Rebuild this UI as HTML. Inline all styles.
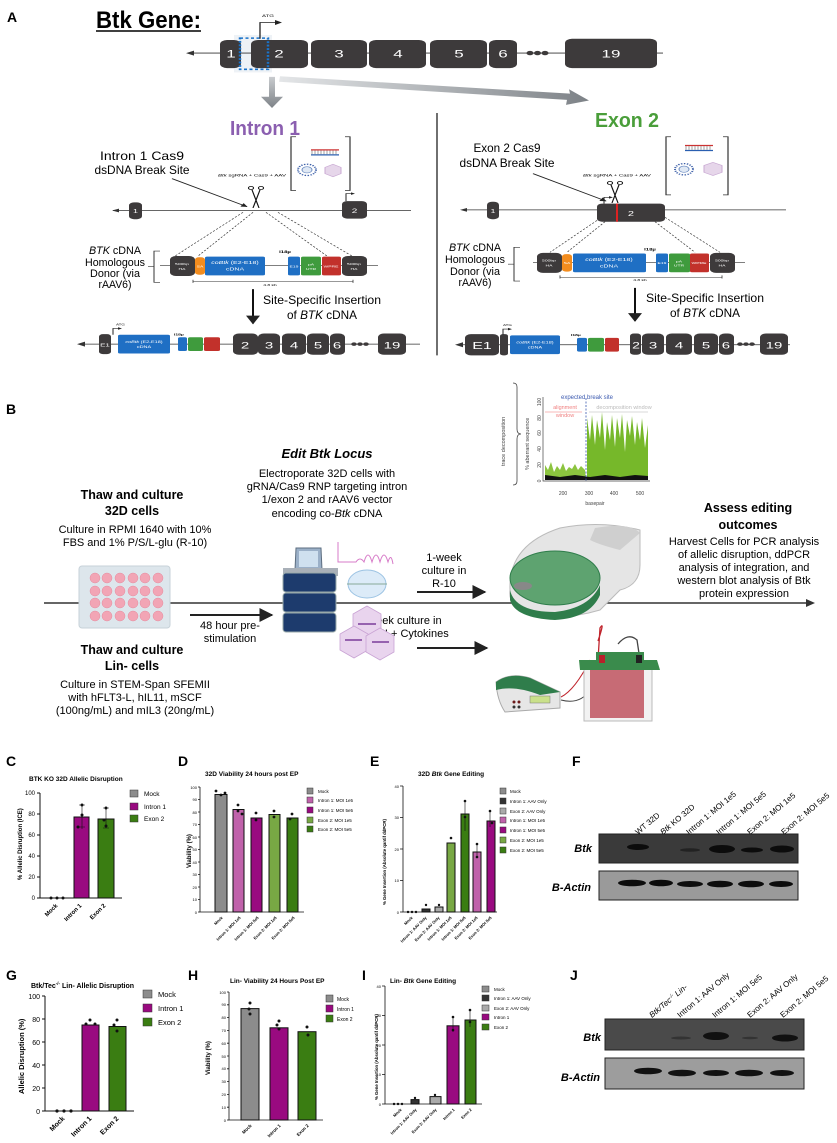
<!DOCTYPE html>
<html><head><meta charset="utf-8"><style>
html,body{margin:0;padding:0;background:#fff}
svg{display:block}
text{font-family:"Liberation Sans",sans-serif}
</style></head><body>
<svg width="837" height="1143" viewBox="0 0 837 1143" xmlns="http://www.w3.org/2000/svg">
<defs>
<marker id="ah" viewBox="0 0 10 10" refX="9" refY="5" markerWidth="5" markerHeight="5" orient="auto"><path d="M0,0L10,5L0,10z" fill="#222"/></marker>
<marker id="ahs" viewBox="0 0 10 10" refX="9" refY="5" markerWidth="7" markerHeight="7" orient="auto"><path d="M0,0L10,5L0,10z" fill="#222"/></marker>
<linearGradient id="gg" x1="0" y1="0" x2="1" y2="0"><stop offset="0" stop-color="#e4e6e8"/><stop offset="1" stop-color="#7d8287"/></linearGradient>
<linearGradient id="gv" x1="0" y1="0" x2="0" y2="1"><stop offset="0" stop-color="#c9cccf"/><stop offset="1" stop-color="#7d8287"/></linearGradient>
</defs>

<!-- ============ PANEL A ============ -->
<text x="7" y="22" font-size="14" font-weight="bold">A</text>
<text x="96" y="28" font-size="24" font-weight="bold" textLength="105" lengthAdjust="spacingAndGlyphs">Btk Gene:</text>
<line x1="96" y1="31" x2="201" y2="31" stroke="#000" stroke-width="1.5"/>
<text x="265" y="135" font-size="20" font-weight="bold" fill="#8b5fb0" text-anchor="middle" textLength="70" lengthAdjust="spacingAndGlyphs">Intron 1</text>
<text x="627" y="127" font-size="20" font-weight="bold" fill="#4a9e3a" text-anchor="middle" textLength="64" lengthAdjust="spacingAndGlyphs">Exon 2</text>
<g font-size="12" text-anchor="middle">
<text x="142" y="160" textLength="84" lengthAdjust="spacingAndGlyphs">Intron 1 Cas9</text>
<text x="142" y="174" textLength="95" lengthAdjust="spacingAndGlyphs">dsDNA Break Site</text>
<text x="507" y="152" textLength="67" lengthAdjust="spacingAndGlyphs">Exon 2 Cas9</text>
<text x="507" y="167" textLength="95" lengthAdjust="spacingAndGlyphs">dsDNA Break Site</text>
<text x="322" y="304" textLength="118" lengthAdjust="spacingAndGlyphs">Site-Specific Insertion</text>
<text x="322" y="319" textLength="70" lengthAdjust="spacingAndGlyphs">of <tspan font-style="italic">BTK</tspan> cDNA</text>
<text x="705" y="302" textLength="118" lengthAdjust="spacingAndGlyphs">Site-Specific Insertion</text>
<text x="705" y="317" textLength="70" lengthAdjust="spacingAndGlyphs">of <tspan font-style="italic">BTK</tspan> cDNA</text>
</g>
<g font-size="11" text-anchor="middle">
<text x="115" y="254" textLength="52" lengthAdjust="spacingAndGlyphs"><tspan font-style="italic">BTK</tspan> cDNA</text>
<text x="115" y="266" textLength="60" lengthAdjust="spacingAndGlyphs">Homologous</text>
<text x="115" y="277" textLength="50" lengthAdjust="spacingAndGlyphs">Donor (via</text>
<text x="115" y="288" textLength="33" lengthAdjust="spacingAndGlyphs">rAAV6)</text>
<text x="475" y="251" textLength="52" lengthAdjust="spacingAndGlyphs"><tspan font-style="italic">BTK</tspan> cDNA</text>
<text x="475" y="263" textLength="60" lengthAdjust="spacingAndGlyphs">Homologous</text>
<text x="475" y="275" textLength="50" lengthAdjust="spacingAndGlyphs">Donor (via</text>
<text x="475" y="286" textLength="33" lengthAdjust="spacingAndGlyphs">rAAV6)</text>
</g>
<g transform="scale(1,0.6245)">
<rect x="234" y="56" width="38" height="60" fill="#eef2f6"/>
<line x1="188" y1="85" x2="663" y2="85" stroke="#333" stroke-width="1.5"/>
<path d="M186,85 l8,-4 v8z" fill="#333"/>
<g fill="#3d3a3b">
<rect x="220" y="64" width="21" height="45" rx="7"/>
<rect x="251" y="64" width="57" height="45" rx="7"/>
<rect x="311" y="64" width="56" height="45" rx="7"/>
<rect x="369" y="64" width="57" height="45" rx="7"/>
<rect x="430" y="64" width="57" height="45" rx="7"/>
<rect x="489" y="64" width="28" height="45" rx="7"/>
<rect x="565" y="62" width="92" height="47" rx="7"/>
<circle cx="530" cy="85" r="3.5"/><circle cx="537.5" cy="85" r="3.5"/><circle cx="545" cy="85" r="3.5"/>
</g>
<g fill="#fff" font-size="17" text-anchor="middle">
<text x="231" y="92">1</text><text x="279" y="92">2</text><text x="339" y="92">3</text><text x="398" y="92">4</text><text x="459" y="92">5</text><text x="503" y="92">6</text><text x="611" y="92">19</text>
</g>
<rect x="240" y="61" width="28" height="50" fill="none" stroke="#1a73c9" stroke-width="2.5" stroke-dasharray="3,2.5"/>
<path d="M260,62 V36 H276" fill="none" stroke="#222" stroke-width="1.3"/><path d="M282,36 l-7,-4 v8z" fill="#222"/>
<text x="268" y="27" font-size="6" text-anchor="middle">ATG</text>
<path d="M269,123 h6 v32 h8 l-11,18 l-11,-18 h8z" fill="url(#gv)"/>
<path d="M280,122 L570,150 L569,143 L589,161 L566,168 L567,160 L279,131z" fill="url(#gg)"/>
<line x1="437" y1="181" x2="437" y2="569" stroke="#222" stroke-width="1.3"/>
<line x1="172" y1="286" x2="247" y2="331" stroke="#222" stroke-width="1.3" marker-end="url(#ah)"/>
<line x1="533" y1="278" x2="606" y2="322" stroke="#222" stroke-width="1.3" marker-end="url(#ah)"/>
<text x="252" y="283" font-size="6" text-anchor="middle"><tspan font-style="italic">Btk</tspan> sgRNA + Cas9 + AAV</text>
<text x="617" y="283" font-size="6" text-anchor="middle"><tspan font-style="italic">Btk</tspan> sgRNA + Cas9 + AAV</text>
<g fill="none" stroke="#333" stroke-width="1.2">
<path d="M296,219 h-5 v86 h5"/><path d="M345,219 h5 v86 h-5"/>
<path d="M671,219 h-5 v93 h5"/><path d="M723,219 h5 v93 h-5"/>
</g>
<g>
<rect x="311" y="239" width="28" height="2" fill="#c33"/><rect x="311" y="247" width="28" height="2" fill="#2a5fb0"/>
<path d="M312,241v6M315,241v6M318,241v6M321,241v6M324,241v6M327,241v6M330,241v6M333,241v6M336,241v6" stroke="#888" stroke-width="0.8"/>
<circle cx="307" cy="272" r="9" fill="none" stroke="#3c5fa8" stroke-width="2" stroke-dasharray="1.5,1.5"/><circle cx="307" cy="272" r="5" fill="#dfe8f4" stroke="#6a8ac0"/>
<path d="M333,263 l8,5 v10 l-8,5 l-8,-5 v-10z" fill="#e6d6ea" stroke="#c9a9d3"/>
<rect x="685" y="232" width="28" height="2" fill="#c33"/><rect x="685" y="240" width="28" height="2" fill="#2a5fb0"/>
<path d="M686,234v6M689,234v6M692,234v6M695,234v6M698,234v6M701,234v6M704,234v6M707,234v6M710,234v6" stroke="#888" stroke-width="0.8"/>
<circle cx="684" cy="271" r="9" fill="none" stroke="#3c5fa8" stroke-width="2" stroke-dasharray="1.5,1.5"/><circle cx="684" cy="271" r="5" fill="#dfe8f4" stroke="#6a8ac0"/>
<path d="M713,260 l9,5 v11 l-9,5 l-9,-5 v-11z" fill="#e6d6ea" stroke="#c9a9d3"/>
</g>
<g fill="none" stroke="#111" stroke-width="1.2">
<circle cx="251" cy="301" r="2.5"/><circle cx="261" cy="301" r="2.5"/><path d="M252,304 L259,333 M260,304 L253,333"/>
<circle cx="610" cy="293" r="2.5"/><circle cx="620" cy="293" r="2.5"/><path d="M611,296 L618,325 M619,296 L612,325"/>
</g>
<line x1="113" y1="337" x2="411" y2="337" stroke="#333" stroke-width="1.2"/><path d="M112,337 l7,-3 v6z" fill="#333"/>
<rect x="129" y="324" width="13" height="27" rx="5" fill="#3d3a3b"/><text x="135.5" y="341" font-size="9" fill="#fff" text-anchor="middle">1</text>
<rect x="342" y="322" width="25" height="28" rx="5" fill="#3d3a3b"/><text x="354.5" y="341" font-size="10" fill="#fff" text-anchor="middle">2</text>
<path d="M346,322 V310 H352" fill="none" stroke="#222"/><path d="M355,310 l-4,-2 v4z" fill="#222"/>
<g stroke="#333" stroke-dasharray="2.5,2" stroke-width="0.9">
<line x1="243" y1="340" x2="175" y2="410"/><line x1="253" y1="340" x2="198" y2="410"/><line x1="266" y1="340" x2="327" y2="410"/><line x1="278" y1="340" x2="352" y2="410"/>
<line x1="597" y1="353" x2="550" y2="404"/><line x1="605" y1="355" x2="567" y2="404"/><line x1="655" y1="355" x2="695" y2="404"/><line x1="665" y1="348" x2="720" y2="404"/>
</g>
<path d="M160,402 h-6 v50 h6" fill="none" stroke="#333"/><line x1="148" y1="427" x2="154" y2="427" stroke="#333"/>
<path d="M520,396 h-6 v54 h6" fill="none" stroke="#333"/><line x1="508" y1="423" x2="514" y2="423" stroke="#333"/>
<line x1="160" y1="425" x2="378" y2="425" stroke="#333"/>
<g font-size="5" fill="#fff" text-anchor="middle">
<rect x="170" y="410" width="25" height="32" rx="6" fill="#3d3a3b"/><text x="182" y="424">500bp</text><text x="182" y="432">HA</text>
<rect x="195" y="412" width="10" height="28" rx="4" fill="#f28c1e"/><text x="200" y="428">SA</text>
<rect x="205" y="411" width="60" height="30" rx="2" fill="#1f6fc4"/><text x="235" y="423" font-size="7"><tspan font-style="italic">coBtk</tspan> (E2-E18)</text><text x="235" y="433" font-size="7">cDNA</text>
<rect x="288" y="411" width="12" height="30" rx="2" fill="#1f6fc4"/><text x="294" y="428">E19</text>
<rect x="301" y="411" width="20" height="30" rx="2" fill="#3f9b3d"/><text x="311" y="425">pA</text><text x="311" y="432">UTR</text>
<rect x="322" y="411" width="19" height="30" rx="2" fill="#c2312b"/><text x="331" y="428">WPRE</text>
<rect x="342" y="410" width="25" height="32" rx="6" fill="#3d3a3b"/><text x="354" y="424">500bp</text><text x="354" y="432">HA</text>
</g>
<text x="285" y="405" font-size="6" font-weight="bold" text-anchor="middle">I18µ</text>
<path d="M193,448v5M193,451H353M353,448v5" stroke="#333" fill="none" stroke-width="0.8"/>
<text x="270" y="458" font-size="5" text-anchor="middle">4.8 kb</text>
<line x1="533" y1="420" x2="745" y2="420" stroke="#333"/>
<g font-size="5" fill="#fff" text-anchor="middle">
<rect x="537" y="405" width="25" height="32" rx="6" fill="#3d3a3b"/><text x="549" y="419">500bp</text><text x="549" y="427">HA</text>
<rect x="562" y="407" width="10" height="28" rx="4" fill="#f28c1e"/><text x="567" y="423">SA</text>
<rect x="573" y="406" width="73" height="30" rx="2" fill="#1f6fc4"/><text x="609" y="418" font-size="7"><tspan font-style="italic">coBtk</tspan> (E2-E18)</text><text x="609" y="428" font-size="7">cDNA</text>
<rect x="656" y="406" width="12" height="30" rx="2" fill="#1f6fc4"/><text x="662" y="423">E19</text>
<rect x="669" y="406" width="21" height="30" rx="2" fill="#3f9b3d"/><text x="679" y="420">pA</text><text x="679" y="427">UTR</text>
<rect x="690" y="406" width="19" height="30" rx="2" fill="#c2312b"/><text x="699" y="423">WPRE</text>
<rect x="710" y="405" width="25" height="32" rx="6" fill="#3d3a3b"/><text x="722" y="419">500bp</text><text x="722" y="427">HA</text>
</g>
<text x="650" y="401" font-size="6" font-weight="bold" text-anchor="middle">I18µ</text>
<path d="M560,441v5M560,444H722M722,441v5" stroke="#333" fill="none" stroke-width="0.8"/>
<text x="640" y="450" font-size="5" text-anchor="middle">4.8 kb</text>
<line x1="462" y1="336" x2="786" y2="336" stroke="#333" stroke-width="1.2"/><path d="M460,336 l7,-3 v6z" fill="#333"/>
<rect x="487" y="323" width="12" height="28" rx="5" fill="#3d3a3b"/><text x="493" y="341" font-size="9" fill="#fff" text-anchor="middle">1</text>
<rect x="597" y="326" width="68" height="29" rx="5" fill="#3d3a3b"/><text x="631" y="346" font-size="11" fill="#fff" text-anchor="middle">2</text>
<line x1="617" y1="326" x2="617" y2="355" stroke="#d22" stroke-width="2"/>
<path d="M604,326 V316 H610" fill="none" stroke="#222"/><path d="M613,316 l-4,-2 v4z" fill="#222"/>
<line x1="253" y1="463" x2="253" y2="518" stroke="#111" stroke-width="2" marker-end="url(#ahs)"/>
<line x1="635" y1="461" x2="635" y2="514" stroke="#111" stroke-width="2" marker-end="url(#ahs)"/>
<line x1="80" y1="551" x2="420" y2="551" stroke="#333" stroke-width="1.3"/><path d="M77,551 l8,-4 v8z" fill="#333"/>
<g fill="#3d3a3b">
<rect x="99" y="535" width="12" height="32" rx="4"/>
<rect x="233" y="534" width="25" height="34" rx="6"/><rect x="258" y="534" width="22" height="34" rx="6"/><rect x="282" y="534" width="24" height="34" rx="6"/><rect x="307" y="534" width="22" height="34" rx="6"/><rect x="330" y="534" width="15" height="34" rx="6"/>
<rect x="378" y="534" width="28" height="34" rx="6"/>
<circle cx="354" cy="551" r="2.8"/><circle cx="360" cy="551" r="2.8"/><circle cx="366" cy="551" r="2.8"/>
</g>
<g fill="#fff" text-anchor="middle">
<text x="105" y="555" font-size="8">E1</text>
<text x="245" y="558" font-size="15">2</text><text x="269" y="558" font-size="15">3</text><text x="294" y="558" font-size="15">4</text><text x="318" y="558" font-size="15">5</text><text x="337" y="558" font-size="15">6</text><text x="392" y="558" font-size="15">19</text>
<rect x="118" y="536" width="52" height="30" rx="2" fill="#1f6fc4"/><text x="144" y="549" font-size="5.5"><tspan font-style="italic">coBtk</tspan> (E2-E18)</text><text x="144" y="557" font-size="5.5">cDNA</text>
<rect x="178" y="540" width="9" height="22" rx="2" fill="#1f6fc4"/>
<rect x="188" y="540" width="15" height="22" rx="2" fill="#3f9b3d"/>
<rect x="204" y="540" width="16" height="22" rx="2" fill="#c2312b"/>
</g>
<path d="M113,536 V526 H119" fill="none" stroke="#222"/><path d="M122,526 l-4,-2 v4z" fill="#222"/>
<text x="116" y="521" font-size="4.5">ATG</text><text x="174" y="537" font-size="5" font-weight="bold">I18µ</text>
<line x1="458" y1="552" x2="790" y2="552" stroke="#333" stroke-width="1.3"/><path d="M455,552 l8,-4 v8z" fill="#333"/>
<g fill="#3d3a3b">
<rect x="465" y="535" width="34" height="34" rx="6"/><rect x="500" y="535" width="8" height="34" rx="3"/>
<rect x="630" y="534" width="11" height="34" rx="4"/><rect x="642" y="534" width="22" height="34" rx="6"/><rect x="666" y="534" width="26" height="34" rx="6"/><rect x="694" y="534" width="24" height="34" rx="6"/><rect x="719" y="534" width="15" height="34" rx="6"/>
<rect x="760" y="534" width="28" height="34" rx="6"/>
<circle cx="740" cy="551" r="2.8"/><circle cx="746" cy="551" r="2.8"/><circle cx="752" cy="551" r="2.8"/>
</g>
<g fill="#fff" text-anchor="middle">
<text x="482" y="559" font-size="16">E1</text>
<text x="636" y="558" font-size="14">2</text><text x="653" y="558" font-size="15">3</text><text x="679" y="558" font-size="15">4</text><text x="706" y="558" font-size="15">5</text><text x="726" y="558" font-size="15">6</text><text x="774" y="558" font-size="15">19</text>
<rect x="510" y="537" width="50" height="30" rx="2" fill="#1f6fc4"/><text x="535" y="550" font-size="5.5"><tspan font-style="italic">coBtk</tspan> (E2-E18)</text><text x="535" y="558" font-size="5.5">cDNA</text>
<rect x="577" y="541" width="10" height="22" rx="2" fill="#1f6fc4"/>
<rect x="588" y="541" width="16" height="22" rx="2" fill="#3f9b3d"/>
<rect x="605" y="541" width="14" height="22" rx="2" fill="#c2312b"/>
</g>
<path d="M503,536 V527 H509" fill="none" stroke="#222"/><path d="M512,527 l-4,-2 v4z" fill="#222"/>
<text x="503" y="522" font-size="4.5">ATG</text><text x="571" y="538" font-size="5" font-weight="bold">I18µ</text>
</g>

<!-- ============ PANEL B ============ -->
<text x="6" y="414" font-size="14" font-weight="bold">B</text>
<text x="327" y="458" font-size="13" font-weight="bold" font-style="italic" text-anchor="middle">Edit Btk Locus</text>
<g font-size="11" text-anchor="middle">
<text x="327" y="477">Electroporate 32D cells with</text>
<text x="327" y="490">gRNA/Cas9 RNP targeting intron</text>
<text x="327" y="503">1/exon 2 and rAAV6 vector</text>
<text x="327" y="517">encoding co-<tspan font-style="italic">Btk</tspan> cDNA</text>
</g>
<g font-size="12.5" font-weight="bold" text-anchor="middle">
<text x="132" y="499">Thaw and culture</text><text x="132" y="515">32D cells</text>
<text x="132" y="654">Thaw and culture</text><text x="132" y="670">Lin- cells</text>
<text x="748" y="512">Assess editing</text><text x="748" y="529">outcomes</text>
</g>
<g font-size="11" text-anchor="middle">
<text x="135" y="533">Culture in RPMI 1640 with 10%</text>
<text x="135" y="546">FBS and 1% P/S/L-glu (R-10)</text>
<text x="135" y="688">Culture in STEM-Span SFEMII</text>
<text x="135" y="701">with hFLT3-L, hIL11, mSCF</text>
<text x="135" y="714">(100ng/mL) and mIL3 (20ng/mL)</text>
<text x="230" y="629">48 hour pre-</text><text x="230" y="642">stimulation</text>
<text x="444" y="561">1-week</text><text x="444" y="574">culture in</text><text x="444" y="587">R-10</text>
<text x="400" y="624">1-week culture in</text><text x="400" y="637">SFEMII + Cytokines</text>
<text x="744" y="545">Harvest Cells for PCR analysis</text>
<text x="744" y="558">of allelic disruption, ddPCR</text>
<text x="744" y="571">analysis of integration, and</text>
<text x="744" y="584">western blot analysis of Btk</text>
<text x="744" y="597">protein expression</text>
</g>
<line x1="44" y1="603" x2="810" y2="603" stroke="#333" stroke-width="1.6"/><path d="M815,603 l-9,-4 v8z" fill="#333"/>
<line x1="190" y1="615" x2="272" y2="615" stroke="#222" stroke-width="2" marker-end="url(#ahs)"/>
<line x1="417" y1="592" x2="485" y2="592" stroke="#222" stroke-width="2" marker-end="url(#ahs)"/>
<line x1="417" y1="648" x2="487" y2="648" stroke="#222" stroke-width="2" marker-end="url(#ahs)"/>
<rect x="79" y="566" width="91" height="62" rx="3" fill="#dde6ec" stroke="#c7d2d9"/>
<g fill="#f2a5b5" stroke="#e58a9e" stroke-width="0.5">
<circle cx="95" cy="578" r="5"/><circle cx="107" cy="578" r="5"/><circle cx="120" cy="578" r="5"/><circle cx="133" cy="578" r="5"/><circle cx="145" cy="578" r="5"/><circle cx="158" cy="578" r="5"/>
<circle cx="95" cy="591" r="5"/><circle cx="107" cy="591" r="5"/><circle cx="120" cy="591" r="5"/><circle cx="133" cy="591" r="5"/><circle cx="145" cy="591" r="5"/><circle cx="158" cy="591" r="5"/>
<circle cx="95" cy="603" r="5"/><circle cx="107" cy="603" r="5"/><circle cx="120" cy="603" r="5"/><circle cx="133" cy="603" r="5"/><circle cx="145" cy="603" r="5"/><circle cx="158" cy="603" r="5"/>
<circle cx="95" cy="616" r="5"/><circle cx="107" cy="616" r="5"/><circle cx="120" cy="616" r="5"/><circle cx="133" cy="616" r="5"/><circle cx="145" cy="616" r="5"/><circle cx="158" cy="616" r="5"/>
</g>
<path d="M296,548 l25,0 l1,22 l-27,0z" fill="#9bb0c8" stroke="#5d6e80"/><rect x="299" y="551" width="19" height="16" fill="#cfe0ef"/>
<rect x="283" y="568" width="55" height="8" fill="#a9b0b8"/>
<rect x="283" y="573" width="53" height="19" rx="3" fill="#1d3b6d" stroke="#9aa" />
<rect x="283" y="593" width="53" height="19" rx="3" fill="#1d3b6d" stroke="#9aa"/>
<rect x="283" y="613" width="53" height="19" rx="3" fill="#1d3b6d" stroke="#9aa"/>
<path d="M338,542 v20 h18 q4,-6 8,0 q4,-14 8,0 q4,-14 8,0 q4,-14 8,0 q3,-10 5,2" fill="none" stroke="#d77bc8" stroke-width="1"/>
<ellipse cx="367" cy="584" rx="19" ry="14" fill="#dcebf8" stroke="#9cc3e3"/>
<path d="M347,584 h40" stroke="#8a9" stroke-width="1"/>
<g fill="#e9d4ee" stroke="#c9a3d4" stroke-width="0.8">
<path d="M367,606 l14,8 v16 l-14,8 l-14,-8 v-16z"/><path d="M354,626 l14,8 v16 l-14,8 l-14,-8 v-16z"/><path d="M380,628 l14,8 v16 l-14,8 l-14,-8 v-16z"/>
</g>
<g stroke="#7a3c9a" stroke-width="1.5"><line x1="358" y1="624" x2="376" y2="624"/><line x1="345" y1="640" x2="362" y2="640"/><line x1="372" y1="642" x2="389" y2="642"/></g>
<path d="M513,383 q4,0 4,4 v42 q0,5 4,5 q-4,0 -4,5 v42 q0,4 -4,4" fill="none" stroke="#444" stroke-width="0.8"/>
<text transform="translate(505,466) rotate(-90)" font-size="5.5" fill="#444">trace decomposition</text>
<text transform="translate(529,470) rotate(-90)" font-size="5.5" fill="#444">% aberrant sequence</text>
<g font-size="5" fill="#444" text-anchor="middle">
<text transform="translate(541,481) rotate(-90)">0</text><text transform="translate(541,465) rotate(-90)">20</text><text transform="translate(541,449) rotate(-90)">40</text><text transform="translate(541,433) rotate(-90)">60</text><text transform="translate(541,418) rotate(-90)">80</text><text transform="translate(541,402) rotate(-90)">100</text>
<text x="563" y="495">200</text><text x="589" y="495">300</text><text x="614" y="495">400</text><text x="640" y="495">500</text>
<text x="595" y="505">basepair</text>
</g>
<path d="M543,397 V481 H650" fill="none" stroke="#444" stroke-width="0.7"/>
<path d="M545,480 L545,465 L548,470 L551,462 L554,472 L557,466 L560,470 L563,463 L566,471 L569,467 L572,469 L575,464 L578,470 L581,466 L585,470 L586,480z" fill="#8cc43f"/>
<path d="M587,480 L587,418 L590,440 L592,415 L595,445 L597,420 L600,438 L602,412 L605,450 L607,422 L610,440 L612,415 L615,447 L617,418 L620,438 L622,414 L625,452 L627,420 L630,436 L632,416 L635,445 L637,422 L640,440 L642,418 L645,448 L648,425 L648,480z" fill="#76b82a"/>
<path d="M545,480 L545,475 L560,477 L575,475 L590,477 L605,475 L620,477 L635,475 L648,476 L648,480z" fill="#111"/>
<line x1="586" y1="398" x2="586" y2="481" stroke="#3d5bb0" stroke-width="0.8" stroke-dasharray="2,1.5"/>
<text x="587" y="399" font-size="6" fill="#3d5bb0" text-anchor="middle">expected break site</text>
<line x1="545" y1="412" x2="582" y2="412" stroke="#f4a0a0" stroke-width="0.8"/>
<line x1="589" y1="412" x2="648" y2="412" stroke="#ccc" stroke-width="0.8"/>
<text x="565" y="409" font-size="5.5" fill="#f08080" text-anchor="middle">alignment</text><text x="565" y="417" font-size="5.5" fill="#f08080" text-anchor="middle">window</text>
<text x="624" y="409" font-size="5.5" fill="#bbb" text-anchor="middle">decomposition window</text>
<path d="M510,590 Q508,545 560,528 Q600,520 640,530 L640,565 Q640,585 620,590 L600,610 Q560,622 525,612 Q508,605 510,590z" fill="#e5e5e5" stroke="#bbb"/>
<path d="M595,528 Q630,522 640,533 L620,550 Q600,545 590,540z" fill="#cfcfcf"/>
<ellipse cx="555" cy="578" rx="45" ry="27" fill="#5ea370" stroke="#2f7d4b"/>
<path d="M510,590 Q515,612 555,612 Q590,608 600,585 L600,595 Q590,618 555,620 Q515,618 510,600z" fill="#2f7d4b"/>
<ellipse cx="523" cy="586" rx="9" ry="4" fill="#888"/>
<path d="M598,641 Q605,620 600,628 L598,660" fill="none" stroke="#c0242c" stroke-width="1.3"/>
<path d="M640,660 L637,640 Q628,632 618,644" fill="none" stroke="#444" stroke-width="1.3"/>
<path d="M561,697 Q575,690 590,660" fill="none" stroke="#c0242c" stroke-width="1"/>
<path d="M561,700 Q580,705 590,690" fill="none" stroke="#444" stroke-width="1"/>
<rect x="584" y="669" width="68" height="52" fill="#f2f2f2" stroke="#bbb"/>
<rect x="590" y="670" width="54" height="48" fill="#c76b75"/>
<path d="M579,660 L657,660 L660,670 L580,670z" fill="#3a8b4c"/>
<rect x="596" y="652" width="48" height="8" fill="#3a8b4c"/>
<rect x="599" y="655" width="6" height="8" fill="#b8202a"/><rect x="636" y="655" width="6" height="8" fill="#222"/>
<path d="M496,682 Q510,672 530,678 L560,692 L560,708 L505,712 Q497,700 496,682z" fill="#e6e6e6" stroke="#aaa"/>
<path d="M496,682 Q510,672 530,678 L560,692 L540,695 Q515,685 496,690z" fill="#2f7d4b"/>
<rect x="530" y="696" width="20" height="7" fill="#c9e08a" stroke="#777" stroke-width="0.5"/>
<circle cx="514" cy="702" r="1.5" fill="#6b1a1a"/><circle cx="519" cy="702" r="1.5" fill="#6b1a1a"/><circle cx="514" cy="707" r="1.5" fill="#333"/><circle cx="519" cy="707" r="1.5" fill="#333"/>

<!-- ============ PANELS C-J ============ -->
<g font-size="14" font-weight="bold">
<text x="6" y="766">C</text><text x="178" y="766">D</text><text x="370" y="766">E</text><text x="572" y="766">F</text>
<text x="6" y="980">G</text><text x="188" y="980">H</text><text x="362" y="980">I</text><text x="570" y="980">J</text>
</g>
<g font-size="6.5" font-weight="bold">
<text x="29" y="781">BTK KO 32D Allelic Disruption</text>
<text x="205" y="776">32D Viability 24 hours post EP</text>
<text x="418" y="776">32D <tspan font-style="italic">Btk</tspan> Gene Editing</text>
<text x="31" y="988" font-size="7">Btk/Tec<tspan font-size="4.5" dy="-3">-/-</tspan><tspan dy="3"> Lin- Allelic Disruption</tspan></text>
<text x="230" y="983">Lin- Viability 24 Hours Post EP</text>
<text x="390" y="983">Lin- <tspan font-style="italic">Btk</tspan> Gene Editing</text>
</g>
<g stroke="#111" stroke-width="1" fill="none"><path d="M40,793 V898 H122"/>
<path d="M37,793h3M37,814h3M37,835h3M37,856h3M37,877h3M37,898h3"/></g>
<g font-size="6" text-anchor="end"><text x="35" y="795">100</text><text x="35" y="816">80</text><text x="35" y="837">60</text><text x="35" y="858">40</text><text x="35" y="879">20</text><text x="35" y="900">0</text></g>
<text transform="translate(22,880) rotate(-90)" font-size="6" font-weight="bold">% Allelic Disruption (ICE)</text>
<rect x="74" y="817" width="15" height="81" fill="#990a80" stroke="#111"/>
<rect x="98" y="819" width="16" height="79" fill="#3a7d12" stroke="#111"/>
<g fill="#111"><circle cx="51" cy="898" r="1.5"/><circle cx="57" cy="898" r="1.5"/><circle cx="63" cy="898" r="1.5"/>
<circle cx="82" cy="815" r="1.5"/><circle cx="78" cy="827" r="1.5"/><circle cx="82" cy="805" r="1.5"/><circle cx="106" cy="808" r="1.5"/><circle cx="104" cy="820" r="1.5"/><circle cx="106" cy="826" r="1.5"/></g>
<path d="M82,805v24M79,805h6M79,827h6M106,808v20M103,808h6M103,828h6" stroke="#111" stroke-width="0.6"/>
<g font-size="6" font-weight="bold" text-anchor="end"><text transform="translate(58,906) rotate(-45)">Mock</text><text transform="translate(82,906) rotate(-45)">Intron 1</text><text transform="translate(106,906) rotate(-45)">Exon 2</text></g>
<rect x="130" y="790" width="8" height="7" fill="#8c8c8c" stroke="#333" stroke-width="0.5"/><rect x="130" y="803" width="8" height="7" fill="#990a80" stroke="#333" stroke-width="0.5"/><rect x="130" y="815" width="8" height="7" fill="#3a7d12" stroke="#333" stroke-width="0.5"/>
<g font-size="6.5"><text x="144" y="796">Mock</text><text x="144" y="809">Intron 1</text><text x="144" y="821">Exon 2</text></g>
<g stroke="#111" stroke-width="0.8" fill="none"><path d="M200,787 V912 H304"/>
<path d="M198,787h2M198,799.5h2M198,812h2M198,824.5h2M198,837h2M198,849.5h2M198,862h2M198,874.5h2M198,887h2M198,899.5h2M198,912h2"/></g>
<g font-size="4" text-anchor="end"><text x="197" y="789">100</text><text x="197" y="801">90</text><text x="197" y="814">80</text><text x="197" y="826">70</text><text x="197" y="839">60</text><text x="197" y="851">50</text><text x="197" y="864">40</text><text x="197" y="876">30</text><text x="197" y="889">20</text><text x="197" y="901">10</text><text x="197" y="914">0</text></g>
<text transform="translate(191,868) rotate(-90)" font-size="6" font-weight="bold">Viability (%)</text>
<rect x="215" y="794.5" width="12" height="117.5" fill="#8c8c8c" stroke="#111"/>
<rect x="233" y="809.5" width="11" height="102.5" fill="#c062ab" stroke="#111"/>
<rect x="251" y="818" width="11" height="94" fill="#990a80" stroke="#111"/>
<rect x="269" y="814.5" width="11" height="97.5" fill="#78a844" stroke="#111"/>
<rect x="287" y="818" width="11" height="94" fill="#3a7d12" stroke="#111"/>
<g fill="#111"><circle cx="216" cy="791" r="1.4"/><circle cx="221" cy="795" r="1.4"/><circle cx="225" cy="793" r="1.4"/><circle cx="238" cy="805" r="1.4"/><circle cx="238" cy="811" r="1.4"/><circle cx="242" cy="814" r="1.4"/><circle cx="256" cy="820" r="1.4"/><circle cx="256" cy="813" r="1.4"/><circle cx="274" cy="817" r="1.4"/><circle cx="274" cy="811" r="1.4"/><circle cx="290" cy="819" r="1.4"/><circle cx="292" cy="814" r="1.4"/></g>
<g font-size="4" font-weight="bold" text-anchor="end"><text transform="translate(223,918) rotate(-45)">Mock</text><text transform="translate(241,918) rotate(-45)">Intron 1: MOI 1e5</text><text transform="translate(259,918) rotate(-45)">Intron 1: MOI 5e5</text><text transform="translate(277,918) rotate(-45)">Exon 2: MOI 1e5</text><text transform="translate(295,918) rotate(-45)">Exon 2: MOI 5e5</text></g>
<g stroke="#333" stroke-width="0.5"><rect x="307" y="788" width="6" height="6" fill="#8c8c8c"/><rect x="307" y="797" width="6" height="6" fill="#c062ab"/><rect x="307" y="807" width="6" height="6" fill="#990a80"/><rect x="307" y="817" width="6" height="6" fill="#78a844"/><rect x="307" y="826" width="6" height="6" fill="#3a7d12"/></g>
<g font-size="4.5"><text x="318" y="793">Mock</text><text x="318" y="802">Intron 1: MOI 1e5</text><text x="318" y="812">Intron 1: MOI 5e5</text><text x="318" y="822">Exon 2: MOI 1e5</text><text x="318" y="831">Exon 2: MOI 5e5</text></g>
<g stroke="#111" stroke-width="0.8" fill="none"><path d="M403,786 V912 H497"/>
<path d="M400,786h3M400,817.5h3M400,849h3M400,880.5h3M400,912h3"/></g>
<g font-size="4" text-anchor="end"><text x="399" y="788">40</text><text x="399" y="819">30</text><text x="399" y="851">20</text><text x="399" y="882">10</text><text x="399" y="914">0</text></g>
<text transform="translate(386,905) rotate(-90)" font-size="4.3" font-weight="bold">% Gene Insertion (Absolute qantif ddPCR)</text>
<rect x="422" y="909" width="8" height="3" fill="#333" stroke="#111"/><rect x="435" y="907" width="8" height="5" fill="#aaa" stroke="#111"/>
<rect x="447" y="843" width="8" height="69" fill="#78a844" stroke="#111"/>
<rect x="461" y="814" width="8" height="98" fill="#3a7d12" stroke="#111"/>
<rect x="473" y="852" width="8" height="60" fill="#c062ab" stroke="#111"/>
<rect x="487" y="821" width="8" height="91" fill="#990a80" stroke="#111"/>
<g fill="#111"><circle cx="408" cy="912" r="1.2"/><circle cx="412" cy="912" r="1.2"/><circle cx="416" cy="912" r="1.2"/><circle cx="426" cy="905" r="1.2"/><circle cx="439" cy="905" r="1.2"/><circle cx="451" cy="838" r="1.3"/><circle cx="465" cy="801" r="1.3"/><circle cx="465" cy="817" r="1.3"/><circle cx="477" cy="844" r="1.3"/><circle cx="477" cy="857" r="1.3"/><circle cx="490" cy="811" r="1.3"/><circle cx="492" cy="823" r="1.3"/></g>
<path d="M465,801v30M477,844v14M490,811v16" stroke="#111" stroke-width="0.6"/>
<g font-size="4" font-weight="bold" text-anchor="end"><text transform="translate(413,918) rotate(-45)">Mock</text><text transform="translate(427,918) rotate(-45)">Intron 1: AAV Only</text><text transform="translate(440,918) rotate(-45)">Exon 2: AAV Only</text><text transform="translate(452,918) rotate(-45)">Intron 1: MOI 1e5</text><text transform="translate(466,918) rotate(-45)">Intron 1: MOI 5e5</text><text transform="translate(478,918) rotate(-45)">Exon 2: MOI 1e5</text><text transform="translate(492,918) rotate(-45)">Exon 2: MOI 5e5</text></g>
<g stroke="#333" stroke-width="0.5"><rect x="500" y="788" width="6" height="6" fill="#8c8c8c"/><rect x="500" y="798" width="6" height="6" fill="#333"/><rect x="500" y="808" width="6" height="6" fill="#aaa"/><rect x="500" y="817" width="6" height="6" fill="#c062ab"/><rect x="500" y="827" width="6" height="6" fill="#990a80"/><rect x="500" y="837" width="6" height="6" fill="#78a844"/><rect x="500" y="847" width="6" height="6" fill="#3a7d12"/></g>
<g font-size="4.5"><text x="510" y="793">Mock</text><text x="510" y="803">Intron 1: AAV Only</text><text x="510" y="813">Exon 2: AAV Only</text><text x="510" y="822">Intron 1: MOI 1e5</text><text x="510" y="832">Intron 1: MOI 5e5</text><text x="510" y="842">Exon 2: MOI 1e5</text><text x="510" y="852">Exon 2: MOI 5e5</text></g>
<g font-size="8" text-anchor="start">
<text transform="translate(638,835) rotate(-40)">WT 32D</text>
<text transform="translate(663,835) rotate(-40)"><tspan font-style="italic">Btk</tspan> KO 32D</text>
<text transform="translate(689,835) rotate(-40)">Intron 1: MOI 1e5</text>
<text transform="translate(719,835) rotate(-40)">Intron 1: MOI 5e5</text>
<text transform="translate(750,835) rotate(-40)">Exon 2: MOI 1e5</text>
<text transform="translate(784,835) rotate(-40)">Exon 2: MOI 5e5</text>
</g>
<rect x="599" y="834" width="199" height="29" fill="#3a3a3a" stroke="#222"/>
<rect x="599" y="871" width="199" height="29" fill="#9a9a9a" stroke="#222"/>
<g fill="#0c0c0c">
<ellipse cx="638" cy="847" rx="11" ry="3"/><ellipse cx="690" cy="850" rx="10" ry="1.8" fill="#222"/><ellipse cx="722" cy="849" rx="13" ry="4"/><ellipse cx="752" cy="850" rx="11" ry="2.5"/><ellipse cx="782" cy="849" rx="12" ry="3.5"/>
<ellipse cx="632" cy="883" rx="14" ry="3.3"/><ellipse cx="661" cy="883" rx="12" ry="3.3"/><ellipse cx="690" cy="884" rx="13" ry="3"/><ellipse cx="720" cy="884" rx="13" ry="3.3"/><ellipse cx="751" cy="884" rx="13" ry="3.3"/><ellipse cx="781" cy="884" rx="12" ry="3"/>
</g>
<text x="592" y="852" font-size="11" font-weight="bold" font-style="italic" text-anchor="end">Btk</text>
<text x="591" y="891" font-size="11" font-weight="bold" font-style="italic" text-anchor="end">B-Actin</text>
<g stroke="#111" stroke-width="1" fill="none"><path d="M45,996 V1111 H134"/>
<path d="M42,996h3M42,1019h3M42,1042h3M42,1065h3M42,1088h3M42,1111h3"/></g>
<g font-size="7" text-anchor="end"><text x="40" y="999">100</text><text x="40" y="1022">80</text><text x="40" y="1045">60</text><text x="40" y="1068">40</text><text x="40" y="1091">20</text><text x="40" y="1114">0</text></g>
<text transform="translate(24,1094) rotate(-90)" font-size="7.5" font-weight="bold">Allelic Disruption (%)</text>
<rect x="82" y="1025" width="17" height="86" fill="#990a80" stroke="#111"/>
<rect x="109" y="1026.5" width="17" height="84.5" fill="#3a7d12" stroke="#111"/>
<g fill="#111"><circle cx="57" cy="1111" r="1.6"/><circle cx="64" cy="1111" r="1.6"/><circle cx="71" cy="1111" r="1.6"/><circle cx="86" cy="1024" r="1.5"/><circle cx="90" cy="1020" r="1.5"/><circle cx="95" cy="1024" r="1.5"/><circle cx="114" cy="1025" r="1.5"/><circle cx="117" cy="1020" r="1.5"/><circle cx="117" cy="1031" r="1.5"/></g>
<g font-size="7" font-weight="bold" text-anchor="end"><text transform="translate(65,1119) rotate(-45)">Mock</text><text transform="translate(92,1119) rotate(-45)">Intron 1</text><text transform="translate(119,1119) rotate(-45)">Exon 2</text></g>
<rect x="143" y="990" width="9" height="8" fill="#8c8c8c" stroke="#333" stroke-width="0.5"/><rect x="143" y="1004" width="9" height="8" fill="#990a80" stroke="#333" stroke-width="0.5"/><rect x="143" y="1018" width="9" height="8" fill="#3a7d12" stroke="#333" stroke-width="0.5"/>
<g font-size="7.5"><text x="158" y="997">Mock</text><text x="158" y="1011">Intron 1</text><text x="158" y="1025">Exon 2</text></g>
<g stroke="#111" stroke-width="0.8" fill="none"><path d="M229,992 V1120 H323"/>
<path d="M227,992h2M227,1004.8h2M227,1017.6h2M227,1030.4h2M227,1043.2h2M227,1056h2M227,1068.8h2M227,1081.6h2M227,1094.4h2M227,1107.2h2M227,1120h2"/></g>
<g font-size="4" text-anchor="end"><text x="226" y="994">100</text><text x="226" y="1006">90</text><text x="226" y="1019">80</text><text x="226" y="1032">70</text><text x="226" y="1045">60</text><text x="226" y="1058">50</text><text x="226" y="1070">40</text><text x="226" y="1083">30</text><text x="226" y="1096">20</text><text x="226" y="1109">10</text><text x="226" y="1122">0</text></g>
<text transform="translate(210,1075) rotate(-90)" font-size="6" font-weight="bold">Viability (%)</text>
<rect x="241" y="1008.6" width="18" height="111.4" fill="#8c8c8c" stroke="#111"/>
<rect x="270" y="1027.8" width="18" height="92.2" fill="#990a80" stroke="#111"/>
<rect x="298" y="1031.7" width="18" height="88.3" fill="#3a7d12" stroke="#111"/>
<g fill="#111"><circle cx="250" cy="1003" r="1.5"/><circle cx="250" cy="1014" r="1.5"/><circle cx="249" cy="1009" r="1.5"/><circle cx="279" cy="1021" r="1.5"/><circle cx="279" cy="1029" r="1.5"/><circle cx="277" cy="1025" r="1.5"/><circle cx="307" cy="1027" r="1.5"/><circle cx="308" cy="1035" r="1.5"/></g>
<g font-size="4.5" font-weight="bold" text-anchor="end"><text transform="translate(252,1126) rotate(-45)">Mock</text><text transform="translate(281,1126) rotate(-45)">Intron 1</text><text transform="translate(309,1126) rotate(-45)">Exon 2</text></g>
<g stroke="#333" stroke-width="0.5"><rect x="326" y="995" width="7" height="7" fill="#8c8c8c"/><rect x="326" y="1005" width="7" height="7" fill="#990a80"/><rect x="326" y="1015" width="7" height="7" fill="#3a7d12"/></g>
<g font-size="5"><text x="337" y="1001">Mock</text><text x="337" y="1011">Intron 1</text><text x="337" y="1021">Exon 2</text></g>
<g stroke="#111" stroke-width="0.8" fill="none"><path d="M385,986 V1104 H482"/>
<path d="M382,986h3M382,1015.5h3M382,1045h3M382,1074.5h3M382,1104h3"/></g>
<g font-size="4" text-anchor="end"><text x="381" y="988">40</text><text x="381" y="1017">30</text><text x="381" y="1047">20</text><text x="381" y="1076">10</text><text x="381" y="1106">0</text></g>
<text transform="translate(378,1100) rotate(-90)" font-size="4.3" font-weight="bold">% Gene Insertion (Absolute qantif ddPCR)</text>
<rect x="411" y="1099.6" width="8" height="4.4" fill="#333" stroke="#111"/>
<rect x="430" y="1096.6" width="11" height="7.4" fill="#aaa" stroke="#111"/>
<rect x="447" y="1025.8" width="12" height="78.2" fill="#990a80" stroke="#111"/>
<rect x="465" y="1020" width="11" height="84" fill="#3a7d12" stroke="#111"/>
<g fill="#111"><circle cx="394" cy="1104" r="1.2"/><circle cx="398" cy="1104" r="1.2"/><circle cx="402" cy="1104" r="1.2"/><circle cx="415" cy="1098" r="1.2"/><circle cx="435" cy="1095" r="1.2"/><circle cx="453" cy="1017" r="1.3"/><circle cx="453" cy="1030" r="1.3"/><circle cx="470" cy="1010" r="1.3"/><circle cx="470" cy="1022" r="1.3"/></g>
<path d="M453,1017v15M470,1010v17" stroke="#111" stroke-width="0.6"/>
<g font-size="4" font-weight="bold" text-anchor="end"><text transform="translate(402,1110) rotate(-45)">Mock</text><text transform="translate(417,1110) rotate(-45)">Intron 1: AAV Only</text><text transform="translate(437,1110) rotate(-45)">Exon 2: AAV Only</text><text transform="translate(455,1110) rotate(-45)">Intron 1</text><text transform="translate(472,1110) rotate(-45)">Exon 2</text></g>
<g stroke="#333" stroke-width="0.5"><rect x="482" y="986" width="7" height="6" fill="#8c8c8c"/><rect x="482" y="995" width="7" height="6" fill="#333"/><rect x="482" y="1005" width="7" height="6" fill="#aaa"/><rect x="482" y="1014" width="7" height="6" fill="#990a80"/><rect x="482" y="1024" width="7" height="6" fill="#3a7d12"/></g>
<g font-size="4.5"><text x="494" y="991">Mock</text><text x="494" y="1000">Intron 1: AAV Only</text><text x="494" y="1010">Exon 2: AAV Only</text><text x="494" y="1019">Intron 1</text><text x="494" y="1029">Exon 2</text></g>
<g font-size="8">
<text transform="translate(652,1018) rotate(-40)" font-style="italic">Btk/Tec<tspan font-size="5" dy="-3">-/-</tspan><tspan dy="3"> Lin-</tspan></text>
<text transform="translate(680,1018) rotate(-40)">Intron 1: AAV Only</text>
<text transform="translate(715,1018) rotate(-40)">Intron 1: MOI 5e5</text>
<text transform="translate(750,1018) rotate(-40)">Exon 2: AAV Only</text>
<text transform="translate(783,1018) rotate(-40)">Exon 2: MOI 5e5</text>
</g>
<rect x="605" y="1019" width="199" height="31" fill="#4a4a4a" stroke="#222"/>
<rect x="605" y="1058" width="199" height="31" fill="#9d9d9d" stroke="#222"/>
<g fill="#111">
<ellipse cx="681" cy="1038" rx="10" ry="1.5" fill="#333"/><ellipse cx="716" cy="1036" rx="13" ry="4"/><ellipse cx="750" cy="1038" rx="8" ry="1.2" fill="#333"/><ellipse cx="785" cy="1038" rx="13" ry="3.5"/>
<ellipse cx="648" cy="1071" rx="14" ry="3.3"/><ellipse cx="682" cy="1073" rx="14" ry="3.3"/><ellipse cx="716" cy="1073" rx="13" ry="3"/><ellipse cx="749" cy="1073" rx="14" ry="3.3"/><ellipse cx="782" cy="1073" rx="12" ry="3"/>
</g>
<text x="601" y="1041" font-size="11" font-weight="bold" font-style="italic" text-anchor="end">Btk</text>
<text x="600" y="1081" font-size="11" font-weight="bold" font-style="italic" text-anchor="end">B-Actin</text>
</svg>
</body></html>
